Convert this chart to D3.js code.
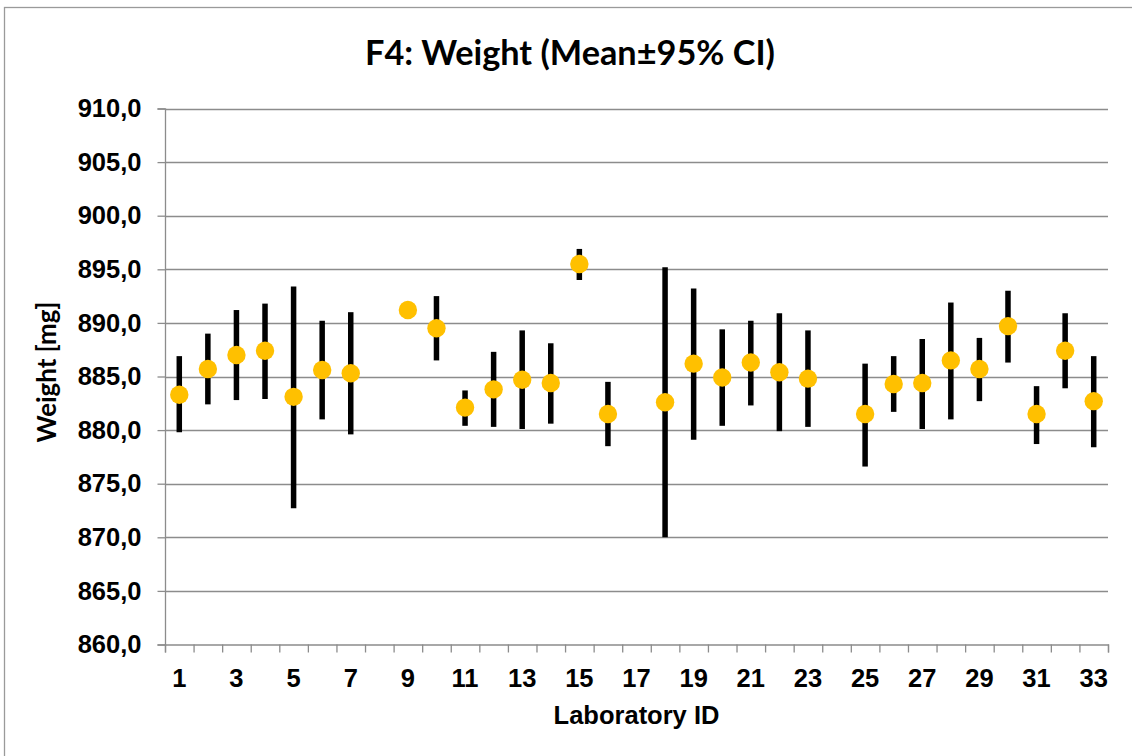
<!DOCTYPE html>
<html>
<head>
<meta charset="utf-8">
<script src="https://cdn.jsdelivr.net/npm/d3@7"></script>
<style>
  body { margin: 0; background: #fff; }
  svg { display: block; }
  .tick text { font-family: "Liberation Sans", Arial, sans-serif; font-weight: bold; fill: #000; }
</style>
</head>
<body>
<svg class="chart"></svg>
<script>
// Laboratory IDs and values (null = no result)
var labs = d3.range(1, 34);
var means = [883.3, 885.7, 887.0, 887.4, 883.1, 885.6, 885.3, null, 891.2, 889.5,
             882.1, 883.8, 884.7, 884.4, 895.5, 881.5, null, 882.6, 886.2, 884.9,
             886.3, 885.4, 884.8, null, 881.5, 884.3, 884.4, 886.5, 885.7, 889.7,
             881.5, 887.4, 882.7];
var lower = [879.8, 882.4, 882.8, 882.9, 872.7, 881.0, 879.6, null, 890.7, 886.5,
             880.4, 880.3, 880.1, 880.6, 894.0, 878.5, null, 870.0, 879.1, 880.4,
             882.3, 879.9, 880.3, null, 876.6, 881.7, 880.1, 881.0, 882.7, 886.3,
             878.7, 883.9, 878.4];
var upper = [886.9, 889.0, 891.2, 891.8, 893.4, 890.2, 891.0, null, 891.7, 892.5,
             883.7, 887.3, 889.3, 888.1, 896.9, 884.5, null, 895.2, 893.2, 889.4,
             890.2, 890.9, 889.3, null, 886.2, 886.9, 888.5, 891.9, 888.6, 893.0,
             884.1, 890.9, 886.9];
var yTicks = [860, 865, 870, 875, 880, 885, 890, 895, 900, 905, 910];
var xLabels = [1, 3, 5, 7, 9, 11, 13, 15, 17, 19, 21, 23, 25, 27, 29, 31, 33];

var width = 1132, height = 756;
var plotLeft = 165, plotRight = 1108, plotTop = 108.5, plotBottom = 644.5;

var chart = d3.select(".chart").attr("width", width).attr("height", height);

// chart border
chart.append("rect")
  .attr("x", 4.5).attr("y", 7.5)
  .attr("width", 1140).attr("height", 760)
  .attr("fill", "none").attr("stroke", "#9a9a9a").attr("stroke-width", 1.3);

var x = d3.scaleBand().domain(labs).range([plotLeft, plotRight]);
var xEdges = d3.scaleLinear().domain([0, labs.length]).range([plotLeft, plotRight]);
var y = d3.scaleLinear().domain([860, 910]).range([plotBottom, plotTop]);

/* Grid */
chart.append("g").selectAll("line")
  .data(yTicks.slice(1))
  .enter().append("line")
  .attr("x1", plotLeft).attr("x2", plotRight)
  .attr("y1", function (d) { return Math.round(y(d)) + 0.5; })
  .attr("y2", function (d) { return Math.round(y(d)) + 0.5; })
  .attr("stroke", "#8c8c8c").attr("stroke-width", 1.3);

/* Axes */
var yAxis = d3.axisLeft(y).tickValues(yTicks).tickSize(7.5).tickPadding(16)
  .tickFormat(function (d) { return d.toFixed(1).replace(".", ","); });
var gy = chart.append("g").attr("transform", "translate(" + plotLeft + ",0)").call(yAxis);
gy.selectAll("text").attr("font-size", 25.5);

var xTickAxis = d3.axisBottom(xEdges).tickValues(d3.range(labs.length + 1))
  .tickSize(8).tickFormat("");
var gx = chart.append("g").attr("transform", "translate(0," + plotBottom + ")").call(xTickAxis);

var xLabelAxis = d3.axisBottom(x).tickValues(xLabels).tickSize(0).tickPadding(24);
var gxl = chart.append("g").attr("transform", "translate(0," + plotBottom + ")").call(xLabelAxis);
gxl.select(".domain").remove();
gxl.selectAll("text").attr("font-size", 25.5);

chart.selectAll(".domain, .tick line").attr("stroke", "#8c8c8c").attr("stroke-width", 1.3);

/* Error bars and means */
var rows = labs.map(function (d, i) {
  return { lab: d, mean: means[i], lo: lower[i], hi: upper[i] };
}).filter(function (d) { return d.mean !== null; });

chart.append("g").selectAll("line")
  .data(rows)
  .enter().append("line")
  .attr("x1", function (d) { return x(d.lab) + x.bandwidth() / 2; })
  .attr("x2", function (d) { return x(d.lab) + x.bandwidth() / 2; })
  .attr("y1", function (d) { return y(d.lo); })
  .attr("y2", function (d) { return y(d.hi); })
  .attr("stroke", "#000").attr("stroke-width", 5.5);

chart.append("g").selectAll("circle")
  .data(rows)
  .enter().append("circle")
  .attr("cx", function (d) { return x(d.lab) + x.bandwidth() / 2; })
  .attr("cy", function (d) { return y(d.mean); })
  .attr("r", 9.2)
  .attr("fill", "#ffc000");

/* Titles */
function fitText(sel, w) {
  var len = sel.node().getComputedTextLength();
  var fs = parseFloat(sel.attr("font-size"));
  sel.attr("font-size", fs * w / len);
}

var title = chart.append("text")
  .attr("x", 570).attr("y", 65)
  .attr("text-anchor", "middle")
  .attr("font-family", "Lato, 'Open Sans', sans-serif")
  .attr("font-weight", "bold").attr("font-size", 31)
  .text("F4: Weight (Mean\u00b195% CI)");
fitText(title, 410);

chart.append("text")
  .attr("x", 636.5).attr("y", 724)
  .attr("text-anchor", "middle")
  .attr("font-family", "'Liberation Sans', Arial, sans-serif")
  .attr("font-weight", "bold").attr("font-size", 25.5)
  .text("Laboratory ID");

var yTitle = chart.append("text")
  .attr("transform", "translate(56,372) rotate(-90)")
  .attr("text-anchor", "middle")
  .attr("font-family", "Lato, 'Open Sans', sans-serif")
  .attr("font-weight", "bold").attr("font-size", 22)
  .text("Weight [mg]");
fitText(yTitle, 141);
</script>
</body>
</html>
